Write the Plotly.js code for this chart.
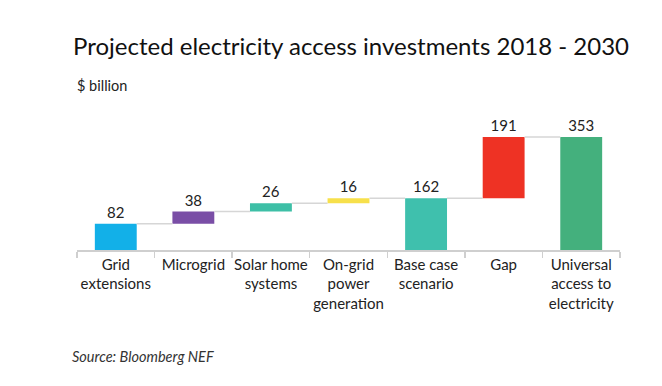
<!DOCTYPE html>
<html><head><meta charset="utf-8">
<script src="https://cdn.plot.ly/plotly-3.0.1.min.js"></script>
<style>html,body{margin:0;padding:0;background:#fff}#c{width:662px;height:386px}</style>
</head><body><div id="c"></div>
<script>
const categories = ["Grid<br>extensions","Microgrid","Solar home<br>systems","On-grid<br>power<br>generation","Base case<br>scenario","Gap","Universal<br>access to<br>electricity"];
const values = [82, 38, 26, 16, 162, 191, 353];
const measures = ["relative","relative","relative","relative","total","relative","total"];
const colors = ["#12b0e8","#7a4ea6","#3dbfa6","#f7e04b","#3fc0ad","#ee3224","#44b07d"];

// compute bases from the data
const bases = [];
let run = 0;
for (let i = 0; i < values.length; i++) {
  if (measures[i] === "total") { bases.push(0); run = values[i]; }
  else { bases.push(run); run += values[i]; }
}
const tops = values.map((v,i)=> bases[i] + v);
const barW = 0.54;
const shapes = [];
for (let i = 0; i < values.length - 1; i++) {
  shapes.push({type:"line", xref:"x", yref:"y", x0:i + barW/2, x1:i + 1 - barW/2, y0:tops[i], y1:tops[i], line:{color:"#d6d6d6", width:1.5}});
}

const data = [{
  type:"bar", x:categories, y:values, base:bases, width:barW,
  marker:{color:colors},
  text:values.map(String), textposition:"outside", cliponaxis:false,
  textfont:{family:"Lato, sans-serif", size:15, color:"#222"},
  hoverinfo:"none"
}];

const layout = {
  width:662, height:386,
  margin:{l:77, r:42, t:120, b:136},
  paper_bgcolor:"#fff", plot_bgcolor:"#fff",
  showlegend:false,
  font:{family:"Lato, sans-serif", color:"#222"},
  title:{text:"Projected electricity access investments 2018 - 2030", font:{family:"Lato, sans-serif", size:24, color:"#111"}, xref:"container", x:73/662, xanchor:"left", y:1-47/386, yanchor:"middle"},
  xaxis:{type:"category", showline:true, linecolor:"#cfcfcf", linewidth:1.5, ticks:"outside", tickson:"boundaries", ticklen:6, tickcolor:"#cfcfcf", tickwidth:1.5, tickangle:0, tickfont:{size:15, color:"#222"}, showgrid:false, zeroline:false, fixedrange:true},
  yaxis:{range:[0,406], visible:false, showgrid:false, zeroline:false},
  shapes:shapes,
  annotations:[
    {text:"$ billion", xref:"paper", yref:"paper", x:(75-77)/543, y:(250-85)/130, xanchor:"left", yanchor:"middle", showarrow:false, font:{size:14.5, color:"#222"}},
    {text:"<i>Source: Bloomberg NEF</i>", xref:"paper", yref:"paper", x:(70-77)/543, y:(250-356)/130, xanchor:"left", yanchor:"middle", showarrow:false, font:{size:14.5, color:"#333"}}
  ]
};
Plotly.newPlot("c", data, layout, {displayModeBar:false, staticPlot:true});
</script></body></html>
